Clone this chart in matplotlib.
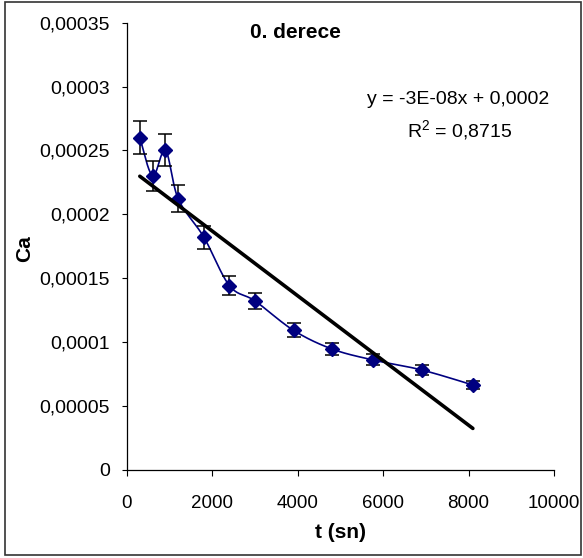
import numpy as np
import matplotlib
matplotlib.use("Agg")
import matplotlib.pyplot as plt
from matplotlib.patches import Rectangle

plt.rcParams['font.family'] = ['Liberation Sans', 'DejaVu Sans']
plt.rcParams['mathtext.fontset'] = 'custom'
plt.rcParams['mathtext.rm'] = 'Liberation Sans'

# data
t_sn = [300, 600, 900, 1200, 1800, 2400, 3000, 3900, 4800, 5760, 6900, 8100]
ca = [0.000260, 0.000230, 0.000250, 0.000212, 0.000182, 0.000144,
      0.000132, 0.000109, 0.0000944, 0.0000858, 0.0000780, 0.0000662]
ca_err = [0.0000130, 0.0000115, 0.0000125, 0.0000106, 0.0000091, 0.0000072,
          0.0000066, 0.0000055, 0.0000047, 0.0000043, 0.0000039, 0.0000033]

x_ticks = [0, 2000, 4000, 6000, 8000, 10000]
y_ticks = [0, 0.00005, 0.0001, 0.00015, 0.0002, 0.00025, 0.0003, 0.00035]
y_labels = ['0', '0,00005', '0,0001', '0,00015', '0,0002', '0,00025', '0,0003', '0,00035']

title = '0. derece'
eq_text = 'y = -3E-08x + 0,0002'
r2_text = r'R$^{\mathrm{2}}$ = 0,8715'

W, H = 583, 558
fig = plt.figure(figsize=(W / 100, H / 100), dpi=100)
ax = fig.add_axes([127 / W, 1 - 469.5 / H, (554 - 127) / W, (469.5 - 22.7) / H])


def smooth(xs, ys, n=20):
    # excel-like smoothed line (catmull-rom bezier)
    x = np.asarray(xs, float)
    y = np.asarray(ys, float)
    px = np.concatenate([[x[0]], x, [x[-1]]])
    py = np.concatenate([[y[0]], y, [y[-1]]])
    out_x, out_y = [], []
    s = np.linspace(0, 1, n)
    for i in range(1, len(px) - 2):
        p0 = np.array([px[i], py[i]])
        p3 = np.array([px[i + 1], py[i + 1]])
        p1 = p0 + (p3 - np.array([px[i - 1], py[i - 1]])) / 6
        p2 = p3 - (np.array([px[i + 2], py[i + 2]]) - p0) / 6
        b = ((1 - s) ** 3)[:, None] * p0 + (3 * (1 - s) ** 2 * s)[:, None] * p1 \
            + (3 * (1 - s) * s ** 2)[:, None] * p2 + (s ** 3)[:, None] * p3
        out_x.extend(b[:, 0])
        out_y.extend(b[:, 1])
    return out_x, out_y


sx, sy = smooth(t_sn, ca)
ax.plot(sx, sy, color='#000080', lw=1.2, zorder=2)

ax.errorbar(t_sn, ca, yerr=ca_err, fmt='none', ecolor='black',
            elinewidth=1.1, capsize=5, capthick=1.1, zorder=3)
ax.plot(t_sn, ca, 'D', color='#000080', markersize=7, zorder=4)

# linear trendline
k, b0 = np.polyfit(t_sn, ca, 1)
tx = np.array([t_sn[0], t_sn[-1]])
ax.plot(tx, k * tx + b0, color='black', lw=2.6, solid_capstyle='round', zorder=5)

ax.set_xlim(0, 10000)
ax.set_ylim(0, 0.00035)
ax.set_xticks(x_ticks)
ax.set_xticklabels([str(v) for v in x_ticks])
ax.set_yticks(y_ticks)
ax.set_yticklabels(y_labels)
ax.tick_params(axis='y', direction='out', length=3.5, width=0.8, pad=9, labelsize=14)
ax.tick_params(axis='x', direction='out', length=4.5, width=0.8, pad=14, labelsize=13.5)
for side in ['top', 'right']:
    ax.spines[side].set_visible(False)
for side in ['left', 'bottom']:
    ax.spines[side].set_linewidth(0.9)

fig.text(295.5 / W, 1 - 33 / H, title, ha='center', va='center',
         fontsize=15, fontweight='bold')
fig.text(340.5 / W, 1 - 532 / H, 't (sn)', ha='center', va='center',
         fontsize=15, fontweight='bold')
fig.text(25 / W, 1 - 249 / H, 'Ca', ha='center', va='center',
         fontsize=15, fontweight='bold', rotation=90)
fig.text(458 / W, 1 - 100 / H, eq_text, ha='center', va='center', fontsize=14)
fig.text(460 / W, 1 - 131 / H, r2_text, ha='center', va='center', fontsize=14)

fig.patches.append(Rectangle((5 / W, 3 / H), 576 / W, 553 / H, transform=fig.transFigure,
                             fill=False, edgecolor='#333333', lw=1.2))

fig.savefig('out.png', dpi=100)
